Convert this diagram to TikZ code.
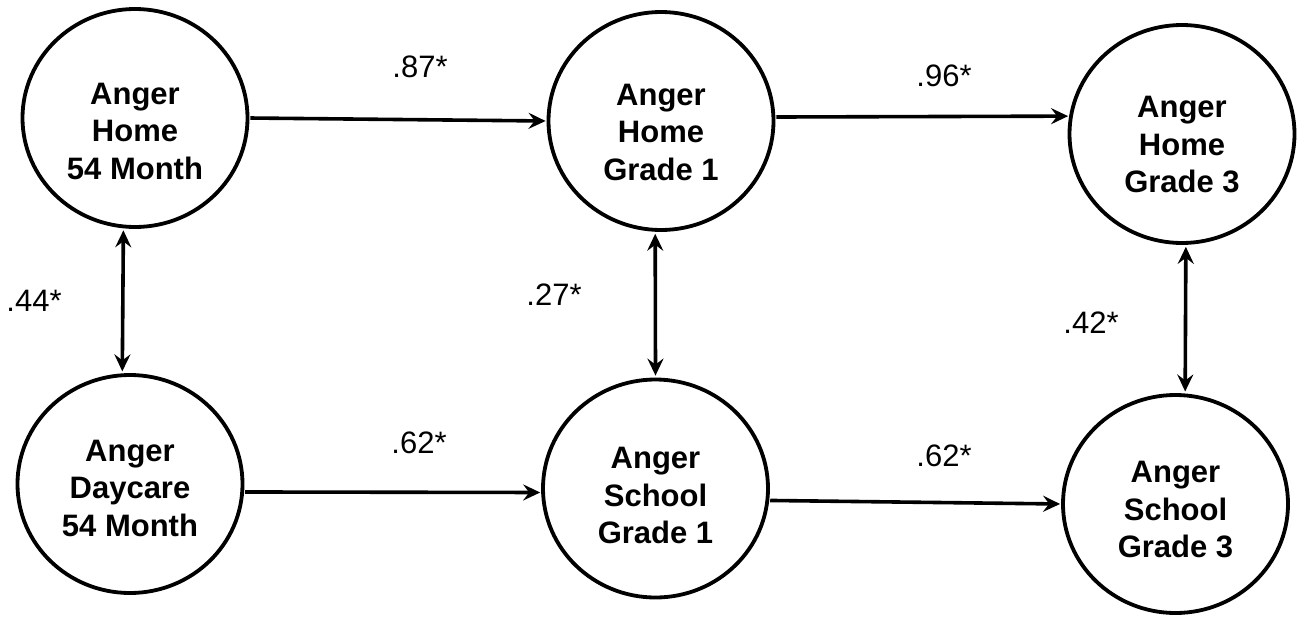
\documentclass[tikz,border=0pt]{standalone}
\usepackage{fontspec}
\setmainfont{Liberation Sans}
\usetikzlibrary{shapes.geometric,arrows.meta}
\begin{document}
\begin{tikzpicture}[x=1pt,y=-1pt,
  latent/.style={ellipse, draw=black, line width=3.8pt, minimum width=225pt, minimum height=218pt, inner sep=0pt},
  intext/.style={align=center, font=\fontsize{31}{37.5}\selectfont\bfseries, inner sep=0pt},
  coef/.style={font=\fontsize{31}{36}\selectfont, inner sep=0pt},
  tip/.tip={Stealth[length=17pt,width=16pt,inset=6pt]},
  patharrow/.style={line width=3.6pt, -tip, shorten >=1pt, shorten <=1pt},
  corrarrow/.style={line width=3.6pt, tip-tip, shorten >=2pt, shorten <=2pt}]
\useasboundingbox (0,0) rectangle (1304,616);
\fill[white] (0,0) rectangle (1304,616);
% nodes
\node[latent, label={[intext, yshift=-13pt]center:Anger\\Home\\54 Month}] (A) at (135,118) {};
\node[latent, label={[intext, yshift=-11pt]center:Anger\\Home\\Grade 1}] (B) at (661,121) {};
\node[latent, label={[intext, yshift=-11pt]center:Anger\\Home\\Grade 3}] (C) at (1182,134) {};
\node[latent, label={[intext, yshift=-4pt]center:Anger\\Daycare\\54 Month}] (D) at (130,484) {};
\node[latent, label={[intext, yshift=-7pt]center:Anger\\School\\Grade 1}] (E) at (655.5,488.5) {};
\node[latent, label={[intext, yshift=-6pt]center:Anger\\School\\Grade 3}] (F) at (1175.5,504) {};
% paths
\draw[patharrow] (A.east) -- (B.west);
\draw[patharrow] (B.2) -- (C.171);
\draw[patharrow] (D.-4) -- (E.182);
\draw[patharrow] (E.-6) -- (F.west);
% correlations
\draw[corrarrow] (A.264) -- (D.94);
\draw[corrarrow] (B.267) -- (E.90);
\draw[corrarrow] (C.272) -- (F.85);
% coefficients
\node[coef] (l87) at (420,67) {.87*};
\node[coef] (l96) at (944,76) {.96*};
\node[coef] (l44) at (34,301) {.44*};
\node[coef] (l27) at (554,295) {.27*};
\node[coef] (l42) at (1091,323) {.42*};
\node[coef] (l62a) at (419,443) {.62*};
\node[coef] (l62b) at (944,456) {.62*};
\end{tikzpicture}
\end{document}
